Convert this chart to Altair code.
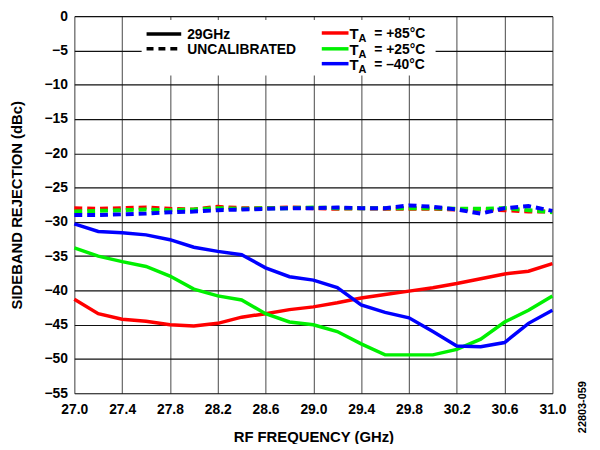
import altair as alt
import pandas as pd

FREQ = [27.0, 27.2, 27.4, 27.6, 27.8, 28.0, 28.2, 28.4, 28.6, 28.8, 29.0,
        29.2, 29.4, 29.6, 29.8, 30.0, 30.2, 30.4, 30.6, 30.8, 31.0]

CAL_P85 = [-41.3, -43.4, -44.2, -44.5, -45.0, -45.2, -44.8, -43.9, -43.4, -42.8, -42.4,
           -41.8, -41.1, -40.6, -40.1, -39.6, -39.0, -38.3, -37.6, -37.2, -36.1]
CAL_P25 = [-33.8, -35.0, -35.8, -36.5, -37.9, -39.8, -40.8, -41.4, -43.4, -44.6, -45.0,
           -46.0, -47.8, -49.4, -49.4, -49.4, -48.6, -47.1, -44.6, -42.9, -40.8]
CAL_M40 = [-30.3, -31.4, -31.6, -31.9, -32.6, -33.7, -34.3, -34.8, -36.7, -38.0, -38.5,
           -39.6, -42.1, -43.2, -44.0, -46.0, -48.1, -48.2, -47.6, -44.8, -42.9]

UNC_P85 = [-28.0, -28.1, -28.0, -27.9, -28.1, -28.2, -27.8, -28.0, -28.0, -27.9, -28.0,
           -28.1, -28.0, -28.1, -28.1, -28.1, -28.2, -28.2, -28.3, -28.5, -28.5]
UNC_P25 = [-28.5, -28.4, -28.3, -28.2, -28.3, -28.2, -28.0, -28.1, -28.0, -28.0, -27.9,
           -28.0, -28.0, -28.0, -28.0, -28.0, -28.1, -28.1, -28.0, -28.3, -28.6]
UNC_M40 = [-29.0, -29.0, -28.9, -28.8, -28.6, -28.5, -28.3, -28.2, -28.1, -28.0, -28.0,
           -27.9, -28.0, -28.0, -27.6, -27.8, -28.2, -28.8, -28.0, -27.7, -28.4]

SERIES = ["+85", "+25", "-40"]
COLORS = ["#FF0000", "#00F000", "#0000FF"]
X_TICKS = [27.0, 27.4, 27.8, 28.2, 28.6, 29.0, 29.4, 29.8, 30.2, 30.6, 31.0]
Y_TICKS = [0, -5, -10, -15, -20, -25, -30, -35, -40, -45, -50, -55]

rows = []
for name, cal, unc in zip(SERIES, [CAL_P85, CAL_P25, CAL_M40], [UNC_P85, UNC_P25, UNC_M40]):
    for f, v in zip(FREQ, cal):
        rows.append({"f": f, "v": v, "series": name, "kind": "cal"})
    for f, v in zip(FREQ, unc):
        rows.append({"f": f, "v": v, "series": name, "kind": "unc"})
df = pd.DataFrame(rows)

FONT = "Liberation Sans"

xenc = alt.X("f:Q", scale=alt.Scale(domain=[27, 31], nice=False),
             axis=alt.Axis(values=X_TICKS, format=".1f", title="RF FREQUENCY (GHz)",
                           grid=True, gridColor="#666666", gridWidth=1.2, ticks=False,
                           domain=False, labelFont=FONT, labelFontSize=14, labelFontWeight="bold",
                           labelColor="black", labelPadding=9, titleFont=FONT, titleFontSize=15,
                           titleFontWeight="bold", titleColor="black", titlePadding=14,
                           labelFlush=False))
yenc = alt.Y("v:Q", scale=alt.Scale(domain=[-55, 0], nice=False),
             axis=alt.Axis(values=Y_TICKS, format="d", title="SIDEBAND REJECTION (dBc)",
                           grid=True, gridColor="#111111", gridWidth=1.2, ticks=False,
                           domain=False, labelFont=FONT, labelFontSize=14, labelFontWeight="bold",
                           labelColor="black", labelPadding=7, titleFont=FONT, titleFontSize=15,
                           titleFontWeight="bold", titleColor="black", titlePadding=20,
                           labelFlush=False))
color = alt.Color("series:N", scale=alt.Scale(domain=SERIES, range=COLORS), legend=None)

base = alt.Chart(df)
unc_lines = base.transform_filter(alt.datum.kind == "unc").mark_line(
    strokeWidth=4, strokeDash=[8, 5]).encode(x=xenc, y=yenc, color=color, detail="series:N")
cal_lines = base.transform_filter(alt.datum.kind == "cal").mark_line(
    strokeWidth=3.5).encode(x=xenc, y=yenc, color=color, detail="series:N")

# legend
one = pd.DataFrame({"a": [0]})
box = alt.Chart(one).mark_rect(fill="white").encode(
    x=alt.value(68), x2=alt.value(365), y=alt.value(4), y2=alt.value(60))

leg_black_solid = alt.Chart(one).mark_rule(color="black", strokeWidth=3.5).encode(
    x=alt.value(73), x2=alt.value(108), y=alt.value(18))
leg_black_dash = alt.Chart(one).mark_rule(
    color="black", strokeWidth=3.5, strokeDash=[7, 5]).encode(
    x=alt.value(73), x2=alt.value(108), y=alt.value(33))
leg_txt1 = alt.Chart(pd.DataFrame({"t": ["29GHz"]})).mark_text(
    font=FONT, fontSize=14, fontWeight="bold", align="left", baseline="middle", color="black").encode(
    x=alt.value(114), y=alt.value(19), text="t:N")
leg_txt2 = alt.Chart(pd.DataFrame({"t": ["UNCALIBRATED"]})).mark_text(
    font=FONT, fontSize=14, fontWeight="bold", align="left", baseline="middle", color="black").encode(
    x=alt.value(114), y=alt.value(34), text="t:N")

LEG_TEMPS = ["= +85°C", "= +25°C", "= –40°C"]
LEG_Y = [17, 33, 48]
leg_layers = []
for col, lab, yy in zip(COLORS, LEG_TEMPS, LEG_Y):
    leg_layers.append(alt.Chart(one).mark_rule(color=col, strokeWidth=3.5).encode(
        x=alt.value(250), x2=alt.value(277), y=alt.value(yy)))
    leg_layers.append(alt.Chart(pd.DataFrame({"t": ["T"]})).mark_text(
        font=FONT, fontSize=15, fontWeight="bold", align="left", baseline="middle", color="black").encode(
        x=alt.value(278), y=alt.value(yy + 1), text="t:N"))
    leg_layers.append(alt.Chart(pd.DataFrame({"t": ["A"]})).mark_text(
        font=FONT, fontSize=11, fontWeight="bold", align="left", baseline="middle", color="black").encode(
        x=alt.value(287), y=alt.value(yy + 6), text="t:N"))
    leg_layers.append(alt.Chart(pd.DataFrame({"t": [lab]})).mark_text(
        font=FONT, fontSize=14, fontWeight="bold", align="left", baseline="middle", color="black").encode(
        x=alt.value(303), y=alt.value(yy + 1), text="t:N"))

code_txt = alt.Chart(pd.DataFrame({"t": ["22803-059"]})).mark_text(
    font=FONT, fontSize=11, fontWeight="bold", angle=270, align="center", baseline="middle",
    color="black").encode(x=alt.value(514), y=alt.value(395), text="t:N")

chart = alt.layer(
    box, leg_black_solid, leg_black_dash, leg_txt1, leg_txt2, *leg_layers,
    unc_lines, cal_lines, code_txt
).properties(
    width=483, height=381,
    autosize=alt.AutoSizeParams(type="none"),
    padding={"left": 67, "top": 6, "right": 40, "bottom": 49},
).configure_view(stroke="black", strokeWidth=2).configure(background="white")

chart.save("out.html", embed_options={"renderer": "svg", "actions": False})
